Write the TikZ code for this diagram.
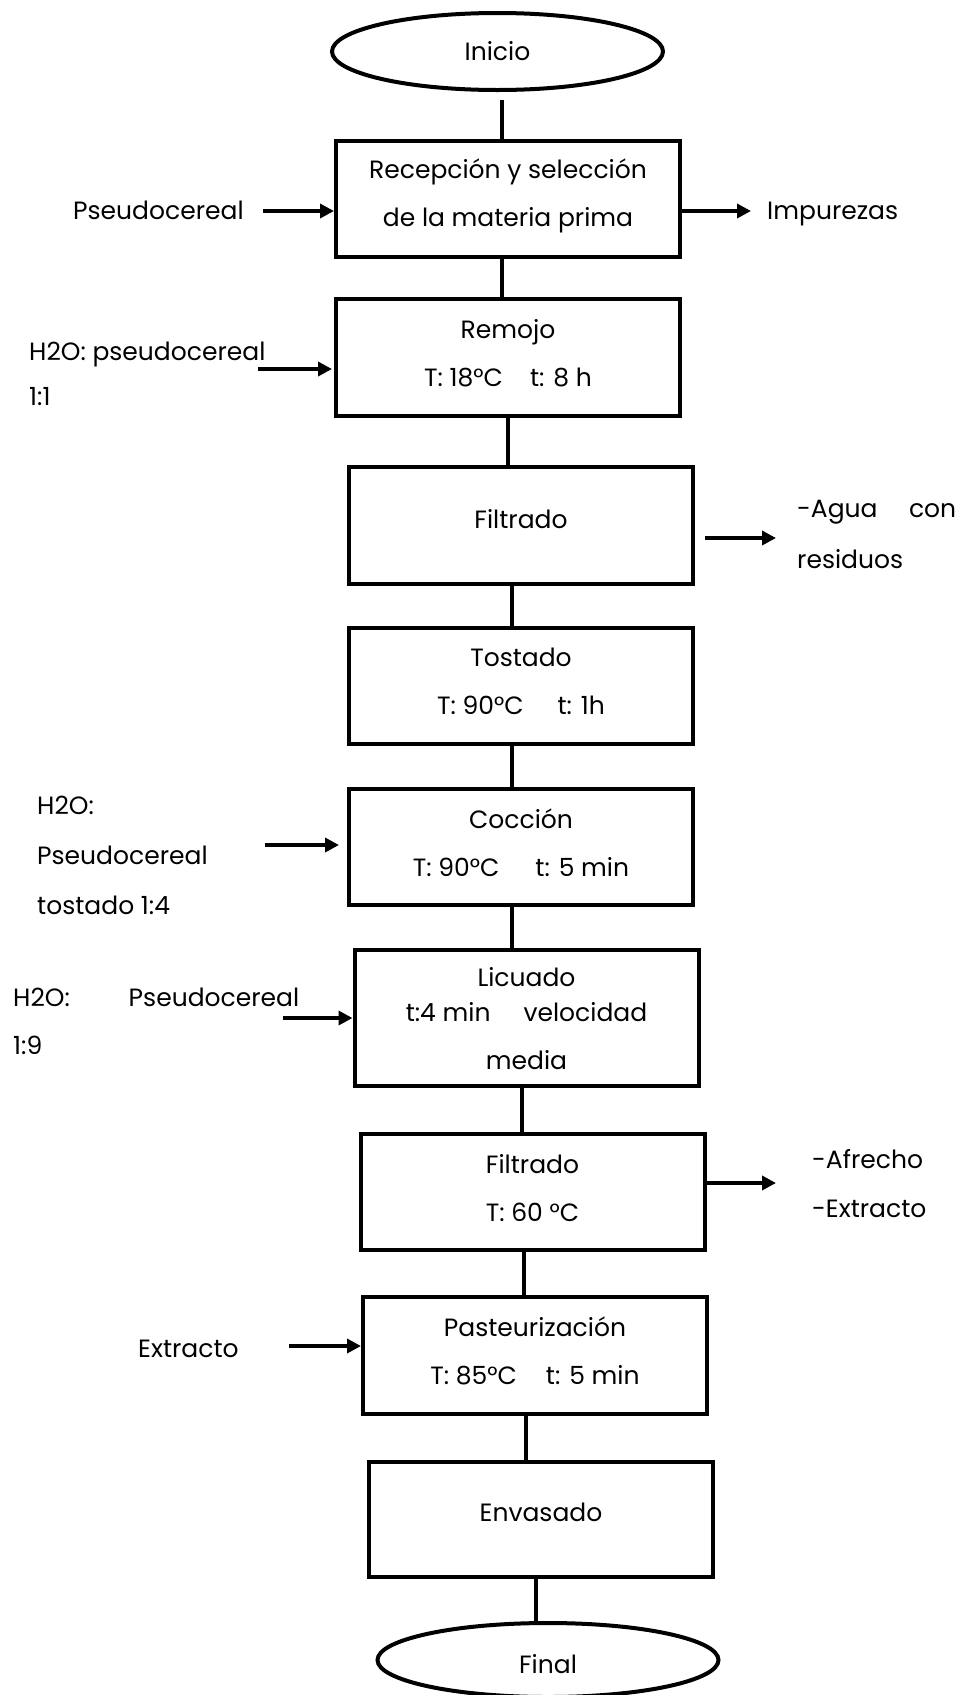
\documentclass[tikz,border=0pt]{standalone}
\usepackage{fontspec}
\setmainfont{Poppins}
\usetikzlibrary{shapes.geometric,arrows.meta,calc}

\begin{document}
\begin{tikzpicture}[x=1pt,y=-1pt,
  every node/.style={font=\fontsize{25}{48}\selectfont},
  stepbox/.style={draw,line width=4pt,minimum width=344pt,minimum height=116pt,inner sep=0pt,align=center,text depth=9pt},
  terminal/.style={draw,ellipse,line width=4pt,inner sep=0pt},
  link/.style={line width=3.3pt},
  flow/.style={line width=4pt,-{Triangle[length=14pt,width=14pt]}},
  side/.style={inner sep=0pt,text height=17pt,text depth=0pt,anchor=west},
]
\useasboundingbox (0,0) rectangle (960,1695);

% start and end
\node[terminal,minimum width=331pt,minimum height=77pt] (inicio) at (497.5,51.5) {Inicio};
\node[terminal,minimum width=341pt,minimum height=74pt,text height=27pt,text depth=0pt] (final) at (548,1660) {Final};

% process steps
\node[stepbox,text depth=12pt] (recep) at (508,199) {Recepción y selección\\de la materia prima};
\node[stepbox,minimum height=117pt] (remojo) at (508,357.5) {Remojo\\T: 18°C\hspace{27pt}t: 8 h};
\node[stepbox,minimum height=117pt,text depth=14pt] (filt1) at (521,525.5) {Filtrado};
\node[stepbox] (tost) at (521,686) {Tostado\\T: 90°C\hspace{34pt}t: 1h};
\node[stepbox] (cocc) at (521,847) {Cocción\\T: 90°C\hspace{36pt}t: 5 min};
\node[stepbox,minimum height=136pt,text depth=0pt] (licu) at (526.5,1018) {Licuado\\[-13pt]t:4 min\hspace{33pt}velocidad\\media};
\node[stepbox] (filt2) at (532.5,1192) {Filtrado\\T: 60 °C};
\node[stepbox,minimum height=117pt] (past) at (535,1355.5) {Pasteurización\\T: 85°C\hspace{29pt}t: 5 min};
\node[stepbox,minimum height=115pt,text depth=14pt] (env) at (541,1519.5) {Envasado};

% main line
\draw[link] ([xshift=4.5pt,yshift=-8pt]inicio.south) -- ([xshift=-6pt]recep.north);
\draw[link] ([xshift=-6pt]recep.south) -- ([xshift=-6pt]remojo.north);
\draw[link] (remojo.south) -- ([xshift=-13pt]filt1.north);
\draw[link] ([xshift=-9pt]filt1.south) -- ([xshift=-9pt]tost.north);
\draw[link] ([xshift=-9pt]tost.south) -- ([xshift=-9pt]cocc.north);
\draw[link] ([xshift=-9pt]cocc.south) -- ([xshift=-14.5pt]licu.north);
\draw[link] ([xshift=-4.5pt]licu.south) -- ([xshift=-10.5pt]filt2.north);
\draw[link] ([xshift=-8.5pt]filt2.south) -- ([xshift=-11pt]past.north);
\draw[link] ([xshift=-9pt]past.south) -- ([xshift=-15pt]env.north);
\draw[link] ([xshift=-5pt]env.south) -- ([xshift=-12pt,yshift=-2pt]final.north);

% inputs and outputs
\node[side] (pseudo) at (73,211) {Pseudocereal};
\coordinate (in1) at (263,211);
\draw[flow] (in1) -- (in1 -| recep.west);

\node[side] (impur) at (767,211) {Impurezas};
\coordinate (out1) at (751,211);
\draw[flow] (out1 -| recep.east) -- (out1);

\node[side] (agua1) at (29,351.5) {H2O: pseudocereal};
\node[side] (agua1b) at (29,397) {1:1};
\coordinate (in2a) at (258,369);
\coordinate (in2b) at (332,369);
\draw[flow] (in2a) -- (in2b);

\node[side,text width=159pt] (resid) at (797,509) {-Agua\hfill con};
\node[side] (residb) at (797,560) {residuos};
\coordinate (out2a) at (705,538);
\coordinate (out2b) at (776,538);
\draw[flow] (out2a) -- (out2b);

\node[side] (agua3a) at (37,806) {H2O:};
\node[side] (agua3b) at (37,856) {Pseudocereal};
\node[side] (agua3c) at (37,906) {tostado 1:4};
\coordinate (in3a) at (265,845);
\coordinate (in3b) at (339,845);
\draw[flow] (in3a) -- (in3b);

\node[side,text width=286pt] (agua4) at (13,998) {H2O:\hfill Pseudocereal};
\node[side] (agua4b) at (13,1046) {1:9};
\coordinate (in4) at (283,1018);
\draw[flow] (in4) -- (in4 -| licu.west);

\node[side] (afre) at (812,1160) {-Afrecho};
\node[side] (extr) at (812,1209) {-Extracto};
\coordinate (out5) at (776,1183);
\draw[flow] (out5 -| filt2.east) -- (out5);

\node[side] (extr2) at (138,1349) {Extracto};
\coordinate (in6) at (289,1346);
\draw[flow] (in6) -- (in6 -| past.west);
\end{tikzpicture}
\end{document}
